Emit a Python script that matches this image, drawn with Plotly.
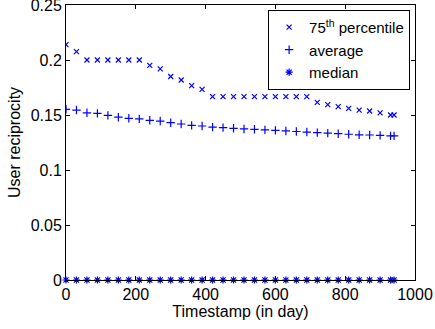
import plotly.graph_objects as go

days = [0, 30, 60, 90, 120, 150, 180, 210, 240, 270, 300, 330, 360, 390, 420, 450,
        480, 510, 540, 570, 600, 630, 660, 690, 720, 750, 780, 810, 840, 870, 900, 930, 940]

p75 = [0.214, 0.2076, 0.2, 0.2, 0.2, 0.2, 0.2, 0.2, 0.1951, 0.192, 0.185, 0.1818, 0.1767,
       0.1733, 0.1667, 0.1667, 0.1667, 0.1667, 0.1667, 0.1667, 0.1667, 0.1667, 0.1667,
       0.1667, 0.1615, 0.1594, 0.1576, 0.156, 0.1545, 0.1536, 0.152, 0.15, 0.15]

avg = [0.1552, 0.1545, 0.152, 0.1515, 0.1497, 0.148, 0.147, 0.1465, 0.1452, 0.1445,
       0.143, 0.1418, 0.1406, 0.14, 0.139, 0.1385, 0.1379, 0.1373, 0.137, 0.1365, 0.136,
       0.1355, 0.135, 0.1345, 0.134, 0.1335, 0.133, 0.1325, 0.132, 0.1318, 0.1315, 0.131, 0.131]

median = [0.0] * len(days)

xticks = [0, 200, 400, 600, 800, 1000]
yticks = [0, 0.05, 0.1, 0.15, 0.2, 0.25]
ytick_labels = ["0", "0.05", "0.1", "0.15", "0.2", "0.25"]

blue = "rgb(0,0,255)"
fig = go.Figure()
fig.add_trace(go.Scatter(x=days, y=p75, mode="markers", name="75<sup>th</sup> percentile",
                         marker=dict(symbol="x-thin-open", size=5, color=blue,
                                     line=dict(width=1.2, color=blue))))
fig.add_trace(go.Scatter(x=days, y=avg, mode="markers", name="average",
                         marker=dict(symbol="cross-thin-open", size=6, color=blue,
                                     line=dict(width=1.2, color=blue))))
fig.add_trace(go.Scatter(x=days, y=median, mode="markers", name="median",
                         marker=dict(symbol="asterisk-open", size=6, color=blue,
                                     line=dict(width=1.2, color=blue)), cliponaxis=False))

axis_common = dict(showgrid=False, zeroline=False, showline=True, linecolor="black",
                   linewidth=1, mirror="ticks", ticks="inside", ticklen=4,
                   tickcolor="black", tickfont=dict(size=16, color="black"),
                   automargin=False, ticklabeloverflow="allow")
fig.update_layout(
    width=435, height=329,
    margin=dict(l=66, r=20, t=5, b=49),
    paper_bgcolor="white", plot_bgcolor="white",
    font=dict(family="Liberation Sans", size=16, color="black"),
    xaxis=dict(range=[0, 1000], tickvals=xticks,
               title=dict(text="Timestamp (in day)", standoff=0, font=dict(size=16)),
               **axis_common),
    yaxis=dict(range=[0, 0.25], tickvals=yticks, ticktext=ytick_labels,
               title=dict(text="User reciprocity", standoff=6, font=dict(size=16)),
               **axis_common),
    legend=dict(x=0.986, y=0.982, xanchor="right", yanchor="top", bordercolor="black",
                borderwidth=1, bgcolor="white", font=dict(size=15),
                tracegroupgap=0, itemwidth=30),
    showlegend=True,
)
fig.write_html("out.html",
               config={"displayModeBar": False},
               post_script="document.body.style.margin='0px';document.body.style.padding='0px';")
